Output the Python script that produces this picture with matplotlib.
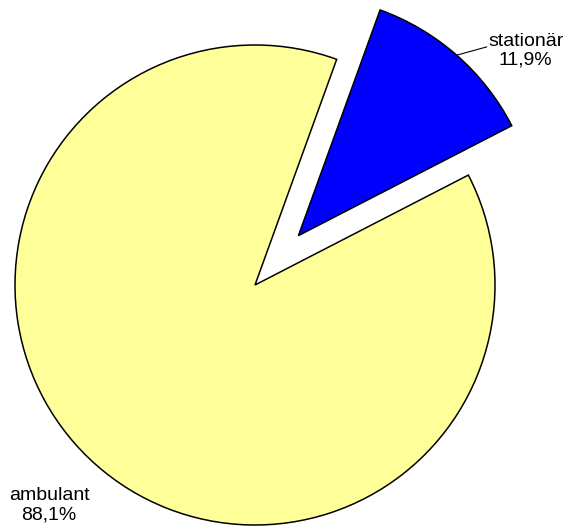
import numpy as np
import matplotlib.pyplot as plt

plt.rcParams['font.family'] = ['Liberation Sans', 'DejaVu Sans']

labels = ['stationär', 'ambulant']
shares = [11.9, 88.1]
colors = ['#0000FF', '#FFFF99']
explode = [0.274, 0]

fig = plt.figure(figsize=(5.66, 5.26), dpi=100)
ax = fig.add_axes([0, 0, 1, 1])

wedges, _ = ax.pie(shares, colors=colors, explode=explode, startangle=70.1,
                   counterclock=False, radius=1.0,
                   wedgeprops=dict(edgecolor='black', linewidth=1.1))

# labels: "name\npct" with german decimal comma
def lab(i):
    return f"{labels[i]}\n{shares[i]:.1f}%".replace('.', ',')

ax.text(1.128, 0.975, lab(0), ha='center', va='center', fontsize=14,
        linespacing=1.15)
ax.plot([0.842, 0.965], [0.958, 0.992], color='black', linewidth=0.8)
ax.text(-0.858, -0.917, lab(1), ha='center', va='center', fontsize=14,
        linespacing=1.15)

ax.set_xlim(-255 / 240, (566 - 255) / 240)
ax.set_ylim(-(526 - 285) / 240, 285 / 240)
ax.set_aspect('auto')
ax.axis('off')

fig.savefig('out.png', dpi=100)
